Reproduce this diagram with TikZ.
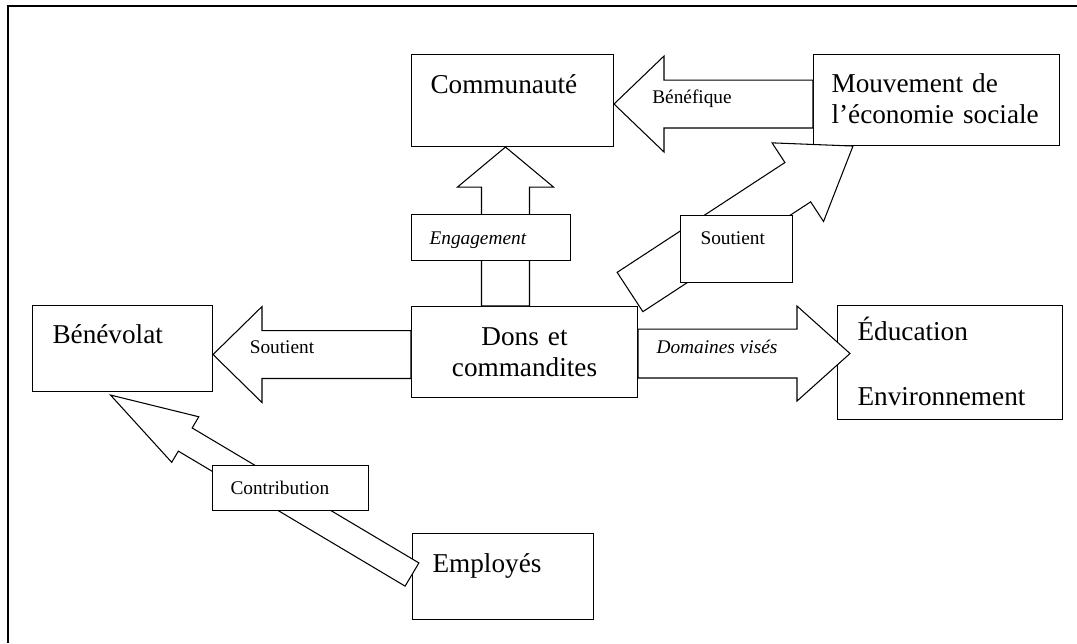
\documentclass[tikz,border=0pt]{standalone}
\usepackage{fontspec}
\setmainfont{Liberation Serif}
\usetikzlibrary{calc}

\newcommand{\grand}{\fontsize{15.5}{17.6}\selectfont}
\newcommand{\petit}{\fontsize{11}{13}\selectfont}
% grosse flèche : #1 départ, #2 pointe, #3 demi-largeur du corps,
% #4 demi-largeur de la tête, #5 longueur de la tête
\newcommand{\blocfleche}[5]{%
  \coordinate (bf) at ($(#2)!#5!(#1)$);
  \draw[fleche] ($(#1)!#3!90:(#2)$) -- ($(bf)!#3!90:(#2)$)
    -- ($(bf)!#4!90:(#2)$) -- (#2)
    -- ($(bf)!#4!-90:(#2)$) -- ($(bf)!#3!-90:(#2)$)
    -- ($(#1)!#3!-90:(#2)$) -- cycle;
}

\begin{document}
\begin{tikzpicture}[x=0.02cm, y=-0.02cm,
    boite/.style={draw, line width=0.6pt, inner ysep=0pt, align=left,
      anchor=north west, font=\grand},
    etiq/.style={boite, fill=white, font=\petit},
    fleche/.style={draw, fill=white, line width=0.6pt},
    cadre/.style={line width=0.9pt}]
    \useasboundingbox (0,0) rectangle (1077,643);

    % --- Cadre ---
    \draw[cadre] (8,643) -- (8,6) -- (1077,6);

    % --- Boîtes ---
    \node[boite, text width=3.28cm, inner xsep=0.38cm, text height=0.78cm, text depth=1.06cm]
      (com) at (411,54) {Communauté};
    \node[boite, text width=4.2cm, inner xsep=0.36cm, text height=0.76cm, text depth=1.06cm]
      (mou) at (813,54) {Mouvement de\\l’économie sociale};
    \node[boite, text width=2.8cm, inner xsep=0.4cm, text height=0.76cm, text depth=0.96cm]
      (ben) at (32,305) {Bénévolat};
    \node[boite, text width=4.12cm, inner xsep=0.2cm, minimum height=1.82cm, align=center]
      (dons) at (411,306) {Dons et\\commandites};
    \node[boite, text width=3.7cm, inner xsep=0.4cm, text height=0.7cm, text depth=1.58cm]
      (edu) at (837,305) {Éducation\\[0.68cm]Environnement};
    \node[boite, text width=2.82cm, inner xsep=0.4cm, text height=0.78cm, text depth=0.94cm]
      (emp) at (412,533) {Employés};

    % --- Points des flèches ---
    \coordinate (b1) at ([yshift=-0.08cm]mou.west);
    \coordinate (b2) at (com.east |- b1);
    \coordinate (e1) at ([xshift=-0.38cm]dons.north);
    \coordinate (e2) at (e1 |- com.south);
    \coordinate (s1) at ([yshift=-0.05cm]dons.west);
    \coordinate (s2) at (ben.east |- s1);
    \coordinate (v1) at ([yshift=-0.03cm]dons.east);
    \coordinate (v2) at ([xshift=0.26cm]edu.west |- v1);
    \coordinate (d1) at ([shift={(-0.16cm,0.28cm)}]dons.north east);
    \coordinate (d2) at ([xshift=0.8cm]mou.south west);
    \coordinate (c1) at ([yshift=0.04cm]emp.west);
    \coordinate (c2) at ([shift={(-0.24cm,-0.06cm)}]ben.south);

    % --- Flèches ---
    \blocfleche{b1}{b2}{0.48cm}{0.96cm}{1cm}
    \blocfleche{e1}{e2}{0.48cm}{0.96cm}{0.8cm}
    \blocfleche{s1}{s2}{0.48cm}{0.96cm}{0.98cm}
    \blocfleche{v1}{v2}{0.49cm}{0.95cm}{1.06cm}
    \blocfleche{d1}{d2}{0.47cm}{0.94cm}{1.32cm}
    \blocfleche{c1}{c2}{0.27cm}{0.53cm}{1.74cm}

    % --- Étiquettes ---
    \node[font=\petit] (benef) at (692,99) {Bénéfique};
    \node[font=\petit] (soutg) at (282,347) {Soutient};
    \node[font=\petit\itshape] (domv) at (717,347) {Domaines visés};
    \node[etiq, font=\petit\itshape, text width=2.46cm, inner xsep=0.36cm, text height=0.6cm, text depth=0.32cm]
      (eng) at (411,214) {Engagement};
    \node[etiq, text width=1.44cm, inner xsep=0.4cm, text height=0.58cm, text depth=0.76cm]
      (soutd) at (680,215) {Soutient};
    \node[etiq, text width=2.4cm, inner xsep=0.36cm, text height=0.58cm, text depth=0.32cm]
      (contr) at (212,465) {Contribution};
\end{tikzpicture}
\end{document}
